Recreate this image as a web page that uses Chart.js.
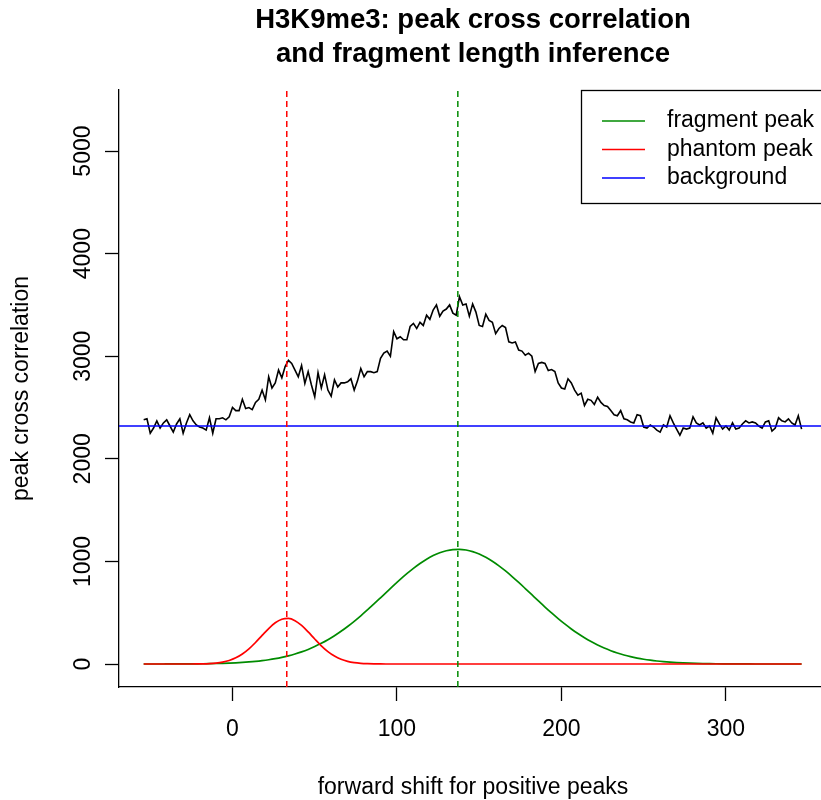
<!DOCTYPE html>
<html><head><meta charset="utf-8">
<script src="https://cdn.jsdelivr.net/npm/chart.js@4/dist/chart.umd.min.js"></script>
<style>html,body{margin:0;padding:0;background:#fff;overflow:hidden}canvas{display:block}</style>
</head><body>
<canvas id="c" width="821" height="800"></canvas>
<script>
// ---------------- data ----------------
const titleLines = ['H3K9me3: peak cross correlation', 'and fragment length inference'];
const xAxisTitle = 'forward shift for positive peaks';
const yAxisTitle = 'peak cross correlation';
const xTicks = [0, 100, 200, 300];
const yTicks = [0, 1000, 2000, 3000, 4000, 5000];
const legendLabels = ['fragment peak', 'phantom peak', 'background'];

// observed cross correlation, shift -54 .. 346 in steps of 2
const shiftStart = -54, shiftStep = 2;
const crossCorr = [
  2380,2390,2250,2300,2370,2300,2350,2380,2320,2260,
  2340,2390,2250,2350,2430,2370,2330,2310,2300,2280,
  2400,2250,2390,2390,2400,2380,2410,2500,2470,2470,
  2580,2490,2500,2480,2550,2580,2670,2575,2800,2690,
  2740,2865,2790,2900,2960,2930,2865,2800,2910,2735,
  2850,2720,2605,2840,2690,2820,2670,2610,2770,2700,
  2740,2740,2750,2780,2670,2760,2880,2800,2850,2850,
  2840,2850,2980,3030,3050,3000,3240,3170,3190,3160,
  3160,3290,3320,3270,3330,3300,3400,3360,3450,3500,
  3390,3440,3460,3500,3420,3400,3580,3500,3510,3390,
  3510,3430,3300,3290,3410,3350,3330,3220,3270,3300,
  3280,3140,3130,3140,3060,3050,3010,3030,3000,2850,
  2930,2940,2930,2860,2870,2850,2740,2690,2680,2780,
  2740,2670,2620,2640,2520,2580,2570,2530,2600,2550,
  2520,2510,2470,2430,2420,2470,2390,2380,2360,2350,
  2430,2420,2310,2300,2330,2310,2280,2260,2330,2310,
  2420,2350,2290,2230,2300,2290,2300,2410,2350,2330,
  2350,2300,2320,2250,2400,2340,2290,2320,2280,2350,
  2290,2300,2340,2370,2350,2360,2350,2320,2300,2360,
  2370,2270,2300,2400,2370,2360,2390,2350,2330,2420,
  2290
];

// fitted model curves, shift -54 .. 346 in steps of 4
const modelStart = -54, modelStep = 4;
const fragmentModel = [
  0.1,0.2,0.3,0.4,0.6,0.8,1.1,1.5,2.1,2.8,3.8,5.2,6.9,9.1,
  12,15.6,20.2,25.9,33,41.6,52.1,64.7,79.8,97.5,118.3,142.3,170,201.3,236.6,275.7,318.8,365.8,416.4,470.1,526.6,585.2,645.2,705.7,765.6,
  824.2,880.2,932.5,980,1022,1057,1085,1104,1115.5,1118,1111,1095.6,1072,1040,1002,957,907,852.6,795.2,735.7,675.4,615.1,555.7,498,442.8,
  390.6,341.9,296.8,255.6,218.4,185.1,155.7,129.9,107.6,88.2,71.9,58.1,46.6,37.1,29.2,22.9,17.8,13.7,10.5,7.9,6.0,4.5,3.3,2.4,1.8,
  1.3,0.9,0.6,0.5,0.3,0.2,0.1,0.1,0.1,0,0,0
];
const phantomModel = [
  0,0,0,0,0,0,0.1,0.3,0.8,2.0,4.5,9.5,18.7,34.7,
  60.1,97.5,147.8,209.8,278.5,345.9,401.9,436.7,444,422.4,375.9,313,243.7,177.6,121,77.2,46,25.7,13.4,6.5,3.0,1.3,0.5,0.2,0,
  0,0,0,0,0,0,0,0,0,0,0,0,0,0,0,0,0,0,0,0,0,0,0,0,0,
  0,0,0,0,0,0,0,0,0,0,0,0,0,0,0,0,0,0,0,0,0,0,0,0,0,
  0,0,0,0,0,0,0,0,0,0,0,0
];
const fragmentPeakShift = 137;
const phantomPeakShift = 33;
const backgroundLevel = 2320;
const xRange = [-69, 357.8];
const yRange = [-224, 5595];

// ---------------- chart ----------------
const FONT = "'Liberation Sans', Arial, Helvetica, sans-serif";
const GREEN = '#008B00', RED = '#FF0000', BLUE = '#0000FF';
const shifts = crossCorr.map((_, i) => shiftStart + i * shiftStep);
const modelShifts = fragmentModel.map((_, i) => modelStart + i * modelStep);

const decor = {
  id: 'decor',
  afterDraw(chart) {
    const ctx = chart.ctx, ys = chart.scales.y;
    ctx.save();
    ctx.fillStyle = '#000';
    ctx.textAlign = 'center';
    ctx.textBaseline = 'alphabetic';
    ctx.font = `bold 27.5px ${FONT}`;
    ctx.fillText(titleLines[0], 473, 28);
    ctx.fillText(titleLines[1], 473, 62);
    ctx.font = `23px ${FONT}`;
    ctx.textBaseline = 'middle';
    ctx.fillText(xAxisTitle, 473, 788);
    ctx.save(); ctx.translate(22, 388.5); ctx.rotate(-Math.PI / 2); ctx.fillText(yAxisTitle, 0, 0); ctx.restore();
    yTicks.forEach(v => {
      const py = ys.getPixelForValue(v);
      ctx.save(); ctx.translate(84, py); ctx.rotate(-Math.PI / 2); ctx.fillText(String(v), 0, 0); ctx.restore();
    });
    // legend
    ctx.strokeStyle = '#000'; ctx.lineWidth = 1.3;
    ctx.strokeRect(581.5, 90.5, 300, 113);
    const cols = [GREEN, RED, BLUE], rowsY = [121, 149.5, 178];
    ctx.textAlign = 'left';
    legendLabels.forEach((lab, i) => {
      ctx.strokeStyle = cols[i]; ctx.lineWidth = 1.6;
      ctx.beginPath(); ctx.moveTo(602, rowsY[i]); ctx.lineTo(645, rowsY[i]); ctx.stroke();
      ctx.fillText(lab, 667, rowsY[i]);
    });
    ctx.restore();
  }
};

new Chart(document.getElementById('c'), {
  type: 'line',
  data: {
    datasets: [
      { label: 'phantom shift', data: [{x: phantomPeakShift, y: yRange[0]}, {x: phantomPeakShift, y: yRange[1]}],
        borderColor: RED, borderWidth: 1.5, borderDash: [6, 4], pointRadius: 0, order: 1 },
      { label: 'fragment shift', data: [{x: fragmentPeakShift, y: yRange[0]}, {x: fragmentPeakShift, y: yRange[1]}],
        borderColor: GREEN, borderWidth: 1.5, borderDash: [6, 4], pointRadius: 0, order: 1 },
      { label: legendLabels[1], data: modelShifts.map((x, i) => ({x, y: phantomModel[i]})),
        borderColor: RED, borderWidth: 1.7, pointRadius: 0, cubicInterpolationMode: 'monotone', order: 2 },
      { label: legendLabels[0], data: modelShifts.map((x, i) => ({x, y: fragmentModel[i]})),
        borderColor: GREEN, borderWidth: 1.7, pointRadius: 0, cubicInterpolationMode: 'monotone', order: 3 },
      { label: legendLabels[2], data: [{x: xRange[0], y: backgroundLevel}, {x: xRange[1], y: backgroundLevel}],
        borderColor: BLUE, borderWidth: 1.6, pointRadius: 0, order: 4 },
      { label: 'cross correlation', data: shifts.map((x, i) => ({x, y: crossCorr[i]})),
        borderColor: '#000', borderWidth: 1.6, pointRadius: 0, tension: 0, order: 5 }
    ]
  },
  options: {
    responsive: false, animation: false, devicePixelRatio: 1,
    layout: { padding: { top: 90, right: 0, bottom: 0, left: 0 } },
    plugins: { legend: { display: false }, title: { display: false }, tooltip: { enabled: false } },
    scales: {
      x: {
        type: 'linear', min: xRange[0], max: xRange[1],
        afterBuildTicks: s => { s.ticks = xTicks.map(v => ({ value: v })); },
        afterFit: s => { s.height = 113; },
        grid: { display: true, drawOnChartArea: false, drawTicks: true, tickLength: 14, tickColor: '#000', tickWidth: 1.3 },
        border: { display: true, color: '#000', width: 1.3 },
        ticks: { color: '#000', font: { family: FONT, size: 23 }, padding: 15, maxRotation: 0, autoSkip: false }
      },
      y: {
        type: 'linear', min: yRange[0], max: yRange[1],
        afterBuildTicks: s => { s.ticks = yTicks.map(v => ({ value: v })); },
        afterFit: s => { s.width = 119; },
        grid: { display: true, drawOnChartArea: false, drawTicks: true, tickLength: 14, tickColor: '#000', tickWidth: 1.3 },
        border: { display: true, color: '#000', width: 1.3 },
        ticks: { display: false }
      }
    }
  },
  plugins: [decor]
});
</script>
</body></html>
